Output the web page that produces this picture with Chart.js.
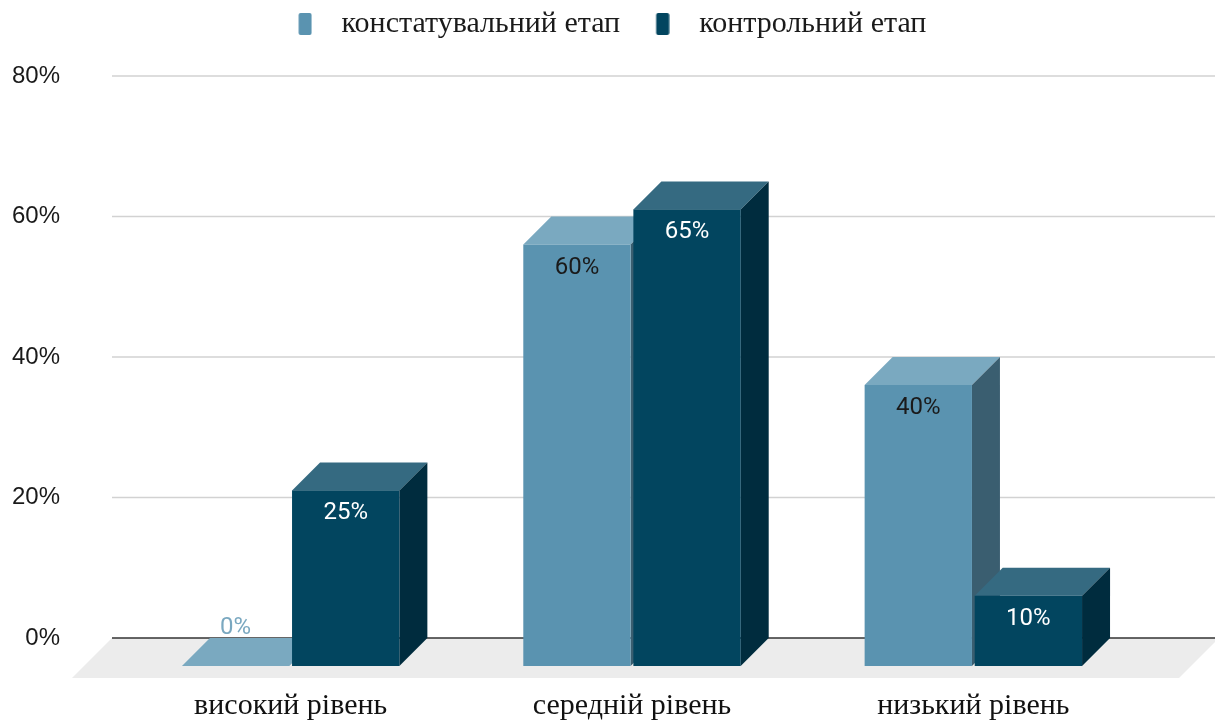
<!DOCTYPE html>
<html>
<head>
<meta charset="utf-8">
<script src="https://cdn.jsdelivr.net/npm/chart.js@4.4.1/dist/chart.umd.min.js"></script>
<style>
  html, body { margin: 0; padding: 0; background: #ffffff; }
  canvas { display: block; }
</style>
</head>
<body>
<canvas id="chart" width="1215" height="724"></canvas>
<script>
// Levels and the share of pupils at each level, per stage
const categories = ['високий рівень', 'середній рівень', 'низький рівень'];
const seriesNames = ['констатувальний етап', 'контрольний етап'];
const stageAscertaining = [0, 60, 40];
const stageControl = [25, 65, 10];
const yTicks = [0, 20, 40, 60, 80];

// Box shading: front, top and side faces for each series
const frontColors = ['#5a93b0', '#02455f'];
const topColors = ['#7aa9c0', '#356a81'];
const sideColors = ['#3a5e70', '#002c3e'];
const labelColors = ['#1a1a1a', '#ffffff'];
const zeroLabelColor = '#7aa8c0';

const DEPTH = 28;        // bar depth (px, drawn toward lower-left)
const FLOOR_DEPTH = 40;  // depth of the grey floor plate
const GRID_LEFT_EXTRA = 36;

// Legend swatch: tall rounded rectangle, placed inside a wider transparent tile
function swatch(color) {
  const c = document.createElement('canvas');
  c.width = 26; c.height = 22;
  const g = c.getContext('2d');
  g.fillStyle = color;
  g.beginPath();
  g.roundRect(12.5, 0, 13, 22, 2);
  g.fill();
  return c;
}

function poly(ctx, pts, color) {
  ctx.fillStyle = color;
  ctx.beginPath();
  ctx.moveTo(pts[0][0], pts[0][1]);
  for (let i = 1; i < pts.length; i++) ctx.lineTo(pts[i][0], pts[i][1]);
  ctx.closePath();
  ctx.fill();
}

// Floor, grid lines, 3D boxes and value labels
const boxes3d = {
  id: 'boxes3d',
  beforeDatasetsDraw(chart) {
    const { ctx, chartArea, scales } = chart;
    const yScale = scales.y;
    const left = chartArea.left - GRID_LEFT_EXTRA;
    const right = chart.width;
    const y0 = yScale.getPixelForValue(0);

    ctx.save();
    // floor plate
    poly(ctx, [
      [left, y0], [right + 4, y0],
      [right + 4 - FLOOR_DEPTH, y0 + FLOOR_DEPTH], [left - FLOOR_DEPTH, y0 + FLOOR_DEPTH]
    ], '#ececec');

    // horizontal grid lines on the back wall
    ctx.lineWidth = 1.5;
    ctx.strokeStyle = '#d2d2d2';
    yTicks.forEach(v => {
      if (v === 0) return;
      const py = yScale.getPixelForValue(v);
      ctx.beginPath();
      ctx.moveTo(left, py);
      ctx.lineTo(right, py);
      ctx.stroke();
    });
    // baseline
    ctx.strokeStyle = '#333333';
    ctx.beginPath();
    ctx.moveTo(left, y0);
    ctx.lineTo(right, y0);
    ctx.stroke();

    // boxes
    chart.data.datasets.forEach((ds, di) => {
      const meta = chart.getDatasetMeta(di);
      meta.data.forEach(bar => {
        const { x, y, base, width } = bar.getProps(['x', 'y', 'base', 'width'], true);
        const l = x - width / 2, r = x + width / 2;
        const fl = l - DEPTH, fr = r - DEPTH, ft = y + DEPTH, fb = base + DEPTH;
        poly(ctx, [[fl, ft], [l, y], [r, y], [fr, ft]], topColors[di]);
        if (base - y > 0.5) {
          poly(ctx, [[fr, ft], [r, y], [r, base], [fr, fb]], sideColors[di]);
          ctx.fillStyle = frontColors[di];
          ctx.fillRect(fl, ft, width, fb - ft);
        }
      });
    });

    // value labels
    ctx.font = '24px Roboto';
    ctx.textAlign = 'center';
    ctx.textBaseline = 'middle';
    chart.data.datasets.forEach((ds, di) => {
      const meta = chart.getDatasetMeta(di);
      meta.data.forEach((bar, i) => {
        const v = ds.data[i];
        const { x, y } = bar.getProps(['x', 'y'], true);
        const cx = x - DEPTH;
        if (v === 0) {
          ctx.fillStyle = zeroLabelColor;
          ctx.fillText(v + '%', cx, y + DEPTH - 38);
        } else {
          ctx.fillStyle = labelColors[di];
          ctx.fillText(v + '%', cx, y + DEPTH + 23);
        }
      });
    });
    ctx.restore();
    return false;
  }
};

// Fixed legend band height above the plot, legend row nudged right
const legendBand = {
  id: 'legendBand',
  beforeInit(chart) {
    const lg = chart.legend;
    if (!lg) return;
    const fit = lg.fit;
    lg.fit = function () {
      fit.call(this);
      this.height = 76;
    };
    const draw = lg.draw;
    lg.draw = function () {
      const ctx = this.ctx;
      ctx.save();
      ctx.translate(13, 0);
      draw.call(this);
      ctx.restore();
    };
  }
};

new Chart(document.getElementById('chart'), {
  type: 'bar',
  data: {
    labels: categories,
    datasets: [
      { label: seriesNames[0], data: stageAscertaining, backgroundColor: frontColors[0],
        barPercentage: 0.975, categoryPercentage: 0.645 },
      { label: seriesNames[1], data: stageControl, backgroundColor: frontColors[1],
        barPercentage: 0.975, categoryPercentage: 0.645 }
    ]
  },
  options: {
    responsive: false,
    animation: false,
    layout: { padding: { left: 0, right: 43, top: 0, bottom: 0 } },
    plugins: {
      tooltip: { enabled: false },
      legend: {
        position: 'top',
        labels: {
          font: { family: 'Liberation Serif', size: 30 },
          color: '#1a1a1a',
          usePointStyle: true,
          pointStyleWidth: 55,
          boxHeight: 22,
          padding: 9,
          generateLabels(chart) {
            return chart.data.datasets.map((ds, i) => ({
              text: ds.label,
              pointStyle: swatch(frontColors[i]),
              fillStyle: frontColors[i],
              strokeStyle: 'rgba(0,0,0,0)',
              lineWidth: 0,
              hidden: false,
              datasetIndex: i,
              fontColor: '#1a1a1a'
            }));
          }
        }
      }
    },
    scales: {
      x: {
        afterFit(axis) { axis.height = 86; },
        grid: { display: false, drawTicks: false },
        border: { display: false },
        ticks: {
          font: { family: 'Liberation Serif', size: 30 },
          color: '#111111',
          padding: 50,
          labelOffset: -DEPTH,
          maxRotation: 0
        }
      },
      y: {
        min: 0,
        max: 80,
        afterFit(axis) {
          axis.width = 148;
          axis.paddingTop = 14;
          axis.paddingBottom = 14;
        },
        afterBuildTicks(axis) { axis.ticks = yTicks.map(v => ({ value: v })); },
        grid: { display: false, drawTicks: false },
        border: { display: false },
        ticks: {
          font: { family: 'Liberation Sans', size: 24 },
          color: '#1a1a1a',
          padding: 88,
          callback: v => v + '%'
        }
      }
    }
  },
  plugins: [legendBand, boxes3d]
});
</script>
</body>
</html>
